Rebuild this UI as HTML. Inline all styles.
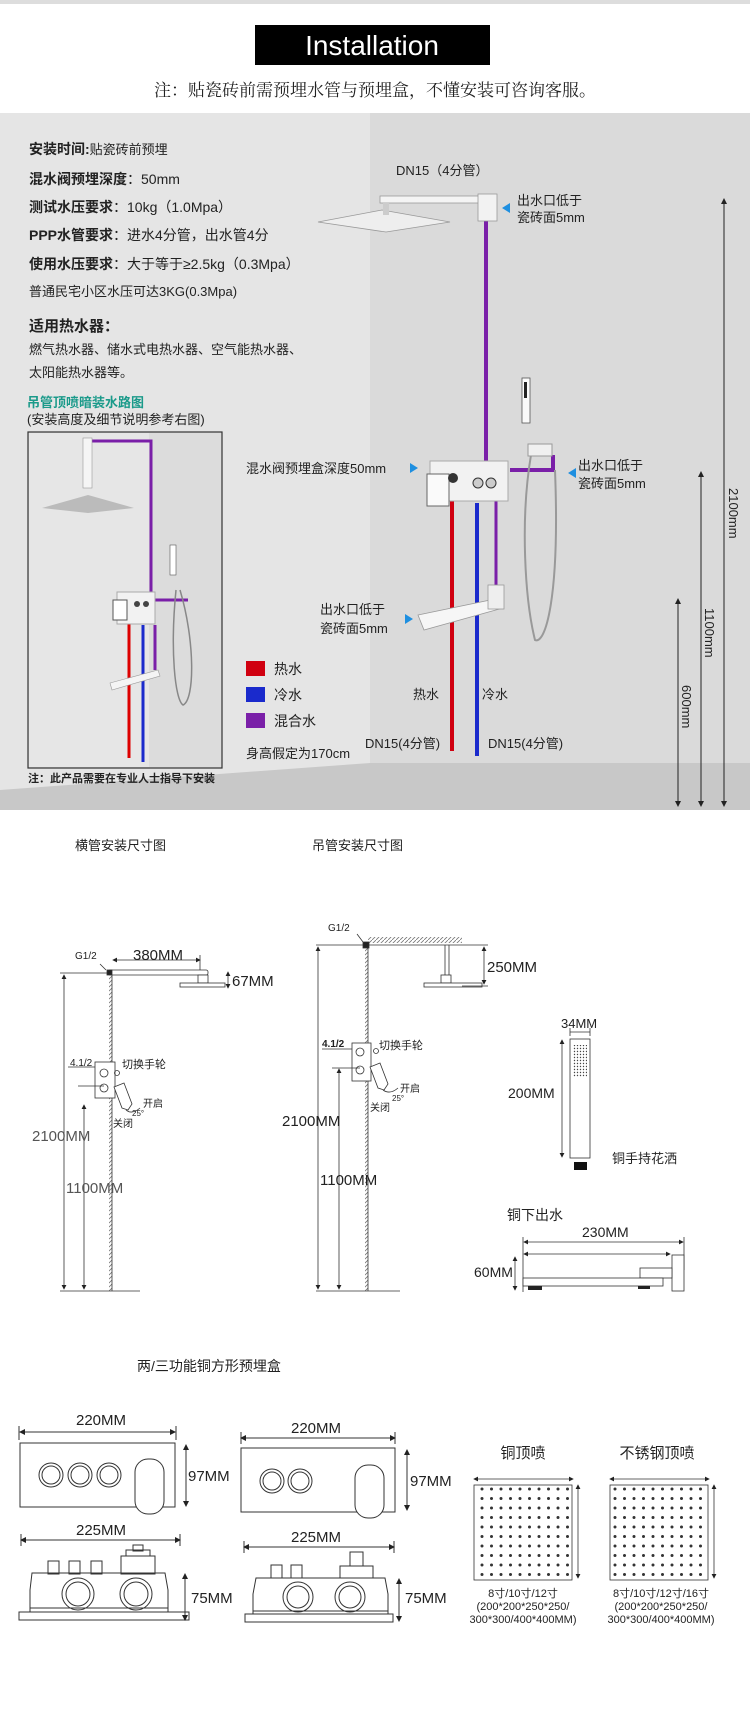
<!DOCTYPE html>
<html><head><meta charset="utf-8"><style>
html,body{margin:0;padding:0;background:#fff}
svg{display:block}
text{font-family:"Liberation Sans","Noto Sans CJK SC",sans-serif;fill:#222}
.s{font-family:"Liberation Serif","Noto Serif CJK SC",serif}
.b{font-weight:bold}
</style></head><body>
<svg width="750" height="1714" viewBox="0 0 750 1714" xmlns="http://www.w3.org/2000/svg">
<defs>
<pattern id="hatch" width="4" height="4" patternUnits="userSpaceOnUse"><path d="M0 4L4 0" stroke="#777" stroke-width="0.8"/></pattern>
<pattern id="dots" x="3" y="3" width="9.5" height="9.5" patternUnits="userSpaceOnUse"><circle cx="4" cy="4" r="1.5" fill="#333"/></pattern>
<pattern id="hdots" width="3" height="3" patternUnits="userSpaceOnUse"><circle cx="1.5" cy="1.5" r="0.7" fill="#444"/></pattern>
<marker id="ar" markerWidth="6" markerHeight="6" refX="5" refY="3" orient="auto"><path d="M0 0L6 3L0 6z" fill="#222"/></marker>
<marker id="al" markerWidth="6" markerHeight="6" refX="1" refY="3" orient="auto"><path d="M6 0L0 3L6 6z" fill="#222"/></marker>
</defs>
<rect x="0" y="0" width="750" height="4" fill="#ddd"/>
<rect x="255" y="25" width="235" height="40" fill="#000"/>
<text x="372" y="55" text-anchor="middle" font-size="28" style="fill:#fff">Installation</text>
<text class="s" x="375" y="96" text-anchor="middle" font-size="17">注：贴瓷砖前需预埋水管与预埋盒，不懂安装可咨询客服。</text>

<!-- panel -->
<rect x="0" y="113" width="750" height="697" fill="#e5e5e5"/>
<rect x="370" y="113" width="380" height="697" fill="#dadada"/>
<polygon points="0,810 0,790 370,763 750,763 750,810" fill="#c8c8c8"/>
<g font-size="14">
<text x="29" y="154" class="b">安装时间:<tspan font-weight="normal" font-size="13">贴瓷砖前预埋</tspan></text>
<text x="29" y="184" class="b">混水阀预埋深度<tspan font-weight="normal">：50mm</tspan></text>
<text x="29" y="212" class="b">测试水压要求<tspan font-weight="normal">：10kg（1.0Mpa）</tspan></text>
<text x="29" y="240" class="b">PPP水管要求<tspan font-weight="normal">：进水4分管，出水管4分</tspan></text>
<text x="29" y="269" class="b">使用水压要求<tspan font-weight="normal">：大于等于≥2.5kg（0.3Mpa）</tspan></text>
<text x="29" y="296" font-size="13">普通民宅小区水压可达3KG(0.3Mpa)</text>
<text x="29" y="331" class="b" font-size="15">适用热水器：</text>
<text x="29" y="354" font-size="13">燃气热水器、储水式电热水器、空气能热水器、</text>
<text x="29" y="377" font-size="13">太阳能热水器等。</text>
<text x="27" y="407" class="b" font-size="13" style="fill:#1a9a8a">吊管顶喷暗装水路图</text>
<text x="27" y="424" font-size="13">(安装高度及细节说明参考右图)</text>
</g>
<!-- inset -->
<rect x="28" y="432" width="194" height="336" fill="#dcdcdc" stroke="#333" stroke-width="1.2"/>
<rect x="29" y="433" width="120" height="334" fill="#e6e6e6"/>
<path d="M92 441H151V600H188" stroke="#7a1fa8" stroke-width="3" fill="none"/>
<rect x="83" y="438" width="9" height="50" fill="#f5f5f5" stroke="#999" stroke-width="0.6"/>
<polygon points="42,508 88,495 134,508 88,513" fill="#bbb"/>
<line x1="129" y1="620" x2="129" y2="758" stroke="#d00" stroke-width="3"/>
<line x1="143" y1="625" x2="143" y2="762" stroke="#1a2acc" stroke-width="3"/>
<line x1="155" y1="625" x2="155" y2="670" stroke="#7a1fa8" stroke-width="3"/>
<rect x="117" y="592" width="38" height="32" fill="#f2f2f2" stroke="#aaa"/>
<rect x="113" y="600" width="14" height="20" fill="#fff" stroke="#555"/>
<circle cx="137" cy="604" r="3" fill="#444"/><circle cx="146" cy="604" r="3" fill="#444"/>
<polygon points="110,683 158,670 160,676 112,690" fill="#f4f4f4" stroke="#999" stroke-width="0.6"/>
<rect x="170" y="545" width="6" height="30" fill="#fff" stroke="#555" stroke-width="0.6"/>
<path d="M180 590C195 640 195 700 183 705C175 700 170 650 176 590" stroke="#888" stroke-width="1.5" fill="none"/>
<text x="28" y="782" class="b" font-size="11">注：此产品需要在专业人士指导下安装</text>

<!-- right diagram pipes -->
<line x1="486" y1="220" x2="486" y2="470" stroke="#7a1fa8" stroke-width="4"/>
<path d="M510 470H553V455" stroke="#7a1fa8" stroke-width="4" fill="none"/>
<line x1="496" y1="500" x2="496" y2="585" stroke="#7a1fa8" stroke-width="3"/>
<line x1="452" y1="500" x2="452" y2="751" stroke="#d00010" stroke-width="4"/>
<line x1="477" y1="503" x2="477" y2="756" stroke="#1a2acc" stroke-width="4"/>
<!-- shower head -->
<polygon points="318,222 382,210 450,222 386,232" fill="#eee" stroke="#999" stroke-width="0.8"/>
<rect x="380" y="196" width="100" height="7" fill="#f4f4f4" stroke="#999" stroke-width="0.8"/>
<rect x="383" y="203" width="6" height="12" fill="#ccc"/>
<rect x="478" y="194" width="19" height="27" fill="#f2f2f2" stroke="#999" stroke-width="0.8"/>
<polygon points="502,208 510,203 510,213" fill="#1e8fe0"/>
<text x="396" y="175" font-size="13">DN15（4分管）</text>
<text x="517" y="205" font-size="13">出水口低于</text>
<text x="517" y="222" font-size="13">瓷砖面5mm</text>
<!-- hand shower -->
<rect x="522" y="378" width="8" height="45" fill="#fafafa" stroke="#555" stroke-width="0.8"/>
<rect x="524" y="382" width="3" height="16" fill="#222"/>
<path d="M531 455C520 520 525 600 535 640C545 645 560 600 555 470" stroke="#999" stroke-width="2" fill="none"/>
<rect x="528" y="444" width="24" height="12" fill="#f0f0f0" stroke="#999"/>
<!-- valve -->
<rect x="430" y="461" width="78" height="40" fill="#f2f2f2" stroke="#aaa"/>
<rect x="427" y="474" width="22" height="32" fill="#fafafa" stroke="#666"/>
<circle cx="453" cy="478" r="5" fill="#333"/><circle cx="478" cy="483" r="5" fill="#ccc" stroke="#333"/><circle cx="491" cy="483" r="5" fill="#ccc" stroke="#333"/>
<text x="246" y="473" font-size="13">混水阀预埋盒深度50mm</text>
<polygon points="418,468 410,463 410,473" fill="#1e8fe0"/>
<polygon points="568,473 576,468 576,478" fill="#1e8fe0"/>
<text x="578" y="470" font-size="13">出水口低于</text>
<text x="578" y="488" font-size="13">瓷砖面5mm</text>
<!-- spout -->
<polygon points="418,615 500,598 503,608 424,630" fill="#f6f6f6" stroke="#999" stroke-width="0.8"/>
<rect x="488" y="585" width="16" height="24" fill="#eee" stroke="#999" stroke-width="0.8"/>
<polygon points="413,619 405,614 405,624" fill="#1e8fe0"/>
<text x="320" y="614" font-size="13">出水口低于</text>
<text x="320" y="633" font-size="13">瓷砖面5mm</text>
<!-- legend -->
<rect x="246" y="661" width="19" height="15" fill="#d00010"/>
<rect x="246" y="687" width="19" height="15" fill="#1a2acc"/>
<rect x="246" y="713" width="19" height="15" fill="#7a1fa8"/>
<text x="274" y="674" font-size="14">热水</text>
<text x="274" y="700" font-size="14">冷水</text>
<text x="274" y="726" font-size="14">混合水</text>
<text x="413" y="699" font-size="13">热水</text>
<text x="482" y="699" font-size="13">冷水</text>
<text x="365" y="748" font-size="13">DN15(4分管)</text>
<text x="488" y="748" font-size="13">DN15(4分管)</text>
<text x="246" y="758" font-size="13">身高假定为170cm</text>
<!-- dims -->
<g stroke="#222" stroke-width="1">
<line x1="724" y1="199" x2="724" y2="806" marker-start="url(#al)" marker-end="url(#ar)"/>
<line x1="701" y1="472" x2="701" y2="806" marker-start="url(#al)" marker-end="url(#ar)"/>
<line x1="678" y1="599" x2="678" y2="806" marker-start="url(#al)" marker-end="url(#ar)"/>
</g>
<text font-size="13" transform="translate(729,488) rotate(90)">2100mm</text>
<text font-size="13" transform="translate(705,608) rotate(90)">1100mm</text>
<text font-size="13" transform="translate(682,685) rotate(90)">600mm</text>

<!-- section 2 -->
<text x="75" y="850" font-size="13">横管安装尺寸图</text>
<text x="312" y="850" font-size="13">吊管安装尺寸图</text>
<g stroke="#333" stroke-width="0.8" fill="none">
<rect x="109" y="973" width="3" height="318" fill="url(#hatch)" stroke="none"/>
<line x1="112" y1="973" x2="112" y2="1291"/>
<line x1="60" y1="1291" x2="140" y2="1291"/>
<line x1="60" y1="973" x2="110" y2="973"/>
<line x1="64" y1="975" x2="64" y2="1289" marker-start="url(#al)" marker-end="url(#ar)"/>
<line x1="84" y1="1105" x2="84" y2="1289" marker-start="url(#al)" marker-end="url(#ar)"/>
<rect x="108" y="970" width="100" height="5" rx="2" fill="#fff"/>
<rect x="107" y="970" width="5" height="5" fill="#222"/>
<line x1="113" y1="960" x2="200" y2="960" marker-start="url(#al)" marker-end="url(#ar)"/>
<line x1="200" y1="955" x2="200" y2="970"/>
<rect x="198" y="975" width="10" height="8" fill="#fff"/>
<rect x="180" y="983" width="45" height="4" fill="#fff"/>
<line x1="228" y1="972" x2="228" y2="988" marker-start="url(#al)" marker-end="url(#ar)"/>
<line x1="100" y1="964" x2="106" y2="970"/>
<rect x="95" y="1062" width="20" height="36" fill="#fff"/>
<circle cx="104" cy="1073" r="4"/><circle cx="104" cy="1088" r="4"/>
<circle cx="117" cy="1073" r="2.5"/>
<line x1="68" y1="1067" x2="95" y2="1067"/><line x1="78" y1="1086" x2="104" y2="1086"/>
<path d="M114 1087L124 1083L132 1104L128 1110L122 1108Z" fill="#fff"/>
<path d="M126 1110Q132 1115 140 1108"/>
</g>
<g font-size="10">
<text x="75" y="959">G1/2</text>
<text x="70" y="1066">4.1/2</text>
<text x="122" y="1068" font-size="11">切换手轮</text>
<text x="143" y="1107">开启</text>
<text x="132" y="1116" font-size="8">25°</text>
<text x="113" y="1127">关闭</text>
</g>
<text x="133" y="960" font-size="15">380MM</text>
<text x="232" y="986" font-size="15">67MM</text>
<text x="32" y="1141" font-size="15" style="fill:#555">2100MM</text>
<text x="66" y="1193" font-size="15" style="fill:#555">1100MM</text>

<!-- middle -->
<g stroke="#333" stroke-width="0.8" fill="none">
<rect x="365" y="945" width="3" height="346" fill="url(#hatch)" stroke="none"/>
<line x1="368" y1="945" x2="368" y2="1291"/>
<line x1="316" y1="1291" x2="400" y2="1291"/>
<rect x="368" y="937" width="94" height="6" fill="url(#hatch)" stroke="none"/>
<line x1="368" y1="945" x2="462" y2="945"/>
<line x1="316" y1="945" x2="365" y2="945"/>
<rect x="363" y="942" width="6" height="6" fill="#222"/>
<line x1="357" y1="934" x2="363" y2="942"/>
<line x1="318" y1="947" x2="318" y2="1289" marker-start="url(#al)" marker-end="url(#ar)"/>
<line x1="339" y1="1069" x2="339" y2="1289" marker-start="url(#al)" marker-end="url(#ar)"/>
<line x1="445" y1="945" x2="445" y2="975"/><line x1="449" y1="945" x2="449" y2="975"/>
<rect x="441" y="975" width="10" height="8" fill="#fff"/>
<rect x="424" y="983" width="58" height="4" fill="#fff"/>
<line x1="462" y1="945" x2="488" y2="945"/><line x1="462" y1="986" x2="488" y2="986"/>
<line x1="484" y1="947" x2="484" y2="984" marker-start="url(#al)" marker-end="url(#ar)"/>
<rect x="352" y="1043" width="19" height="38" fill="#fff"/>
<circle cx="360" cy="1052" r="4"/><circle cx="360" cy="1070" r="4"/>
<circle cx="376" cy="1051" r="2.5"/>
<line x1="322" y1="1049" x2="352" y2="1049"/><line x1="332" y1="1068" x2="360" y2="1068"/>
<path d="M370 1067L380 1063L388 1084L384 1090L378 1088Z" fill="#fff"/>
<path d="M383 1090Q390 1095 398 1088"/>
</g>
<g font-size="10">
<text x="328" y="931">G1/2</text>
<text x="322" y="1047" class="b">4.1/2</text>
<text x="379" y="1049" font-size="11">切换手轮</text>
<text x="400" y="1092">开启</text>
<text x="392" y="1101" font-size="8">25°</text>
<text x="370" y="1111">关闭</text>
</g>
<text x="487" y="972" font-size="15">250MM</text>
<text x="282" y="1126" font-size="15">2100MM</text>
<text x="320" y="1185" font-size="15">1100MM</text>

<!-- hand shower -->
<g stroke="#333" stroke-width="0.8" fill="none">
<rect x="570" y="1039" width="20" height="119" fill="#fff"/>
<rect x="573" y="1045" width="14" height="32" fill="url(#hdots)" stroke="none"/>
<line x1="562" y1="1040" x2="562" y2="1157" marker-start="url(#al)" marker-end="url(#ar)"/>
<line x1="570" y1="1032" x2="590" y2="1032"/>
<line x1="570" y1="1028" x2="570" y2="1036"/><line x1="590" y1="1028" x2="590" y2="1036"/>
</g>
<rect x="574" y="1162" width="13" height="8" fill="#111"/>
<text x="561" y="1028" font-size="13">34MM</text>
<text x="508" y="1098" font-size="14">200MM</text>
<text x="612" y="1163" font-size="13">铜手持花洒</text>
<!-- spout -->
<text x="507" y="1220" font-size="14">铜下出水</text>
<text x="582" y="1237" font-size="14">230MM</text>
<g stroke="#333" stroke-width="0.8" fill="none">
<line x1="524" y1="1242" x2="683" y2="1242" marker-start="url(#al)" marker-end="url(#ar)"/>
<line x1="524" y1="1254" x2="670" y2="1254" marker-start="url(#al)" marker-end="url(#ar)"/>
<line x1="523" y1="1237" x2="523" y2="1292"/><line x1="684" y1="1237" x2="684" y2="1270"/>
<rect x="672" y="1255" width="12" height="36" fill="#fff"/>
<rect x="640" y="1268" width="32" height="10" fill="#fff"/>
<rect x="523" y="1278" width="140" height="8" fill="#fff"/>
<line x1="515" y1="1257" x2="515" y2="1290" marker-start="url(#al)" marker-end="url(#ar)"/>
</g>
<rect x="528" y="1286" width="14" height="4" fill="#222"/><rect x="638" y="1286" width="12" height="3" fill="#222"/>
<text x="474" y="1277" font-size="14">60MM</text>

<!-- section 3 -->
<text x="137" y="1371" font-size="14">两/三功能铜方形预埋盒</text>
<g stroke="#333" stroke-width="1" fill="none">
<line x1="20" y1="1432" x2="175" y2="1432" marker-start="url(#al)" marker-end="url(#ar)"/>
<line x1="19" y1="1426" x2="19" y2="1440"/><line x1="176" y1="1426" x2="176" y2="1440"/>
<rect x="20" y="1443" width="155" height="64" fill="#fff"/>
<circle cx="51" cy="1475" r="12"/><circle cx="51" cy="1475" r="9"/>
<circle cx="80" cy="1475" r="12"/><circle cx="80" cy="1475" r="9"/>
<circle cx="109" cy="1475" r="12"/><circle cx="109" cy="1475" r="9"/>
<rect x="135" y="1459" width="29" height="55" rx="13" fill="#fff"/>
<line x1="186" y1="1445" x2="186" y2="1506" marker-start="url(#al)" marker-end="url(#ar)"/>
<line x1="21" y1="1540" x2="180" y2="1540" marker-start="url(#al)" marker-end="url(#ar)"/>
<line x1="21" y1="1534" x2="21" y2="1546"/><line x1="180" y1="1534" x2="180" y2="1546"/>
<rect x="48" y="1561" width="11" height="13"/><rect x="69" y="1561" width="11" height="13"/><rect x="91" y="1561" width="11" height="13"/>
<rect x="121" y="1556" width="34" height="18"/><rect x="126" y="1550" width="24" height="6"/><rect x="133" y="1545" width="10" height="6"/>
<path d="M32 1573H165L168 1590V1612H30V1590Z"/>
<line x1="30" y1="1608" x2="168" y2="1608"/>
<rect x="19" y="1612" width="170" height="8"/>
<circle cx="78" cy="1594" r="16"/><circle cx="78" cy="1594" r="12"/>
<circle cx="136" cy="1594" r="16"/><circle cx="136" cy="1594" r="12"/>
<line x1="185" y1="1574" x2="185" y2="1620" marker-start="url(#al)" marker-end="url(#ar)"/>
</g>
<text x="76" y="1425" font-size="15">220MM</text>
<text x="188" y="1481" font-size="15">97MM</text>
<text x="76" y="1535" font-size="15">225MM</text>
<text x="191" y="1603" font-size="15">75MM</text>
<g stroke="#333" stroke-width="1" fill="none">
<line x1="241" y1="1438" x2="395" y2="1438" marker-start="url(#al)" marker-end="url(#ar)"/>
<line x1="241" y1="1432" x2="241" y2="1444"/><line x1="395" y1="1432" x2="395" y2="1444"/>
<rect x="241" y="1448" width="154" height="64" fill="#fff"/>
<circle cx="272" cy="1481" r="12"/><circle cx="272" cy="1481" r="9"/>
<circle cx="300" cy="1481" r="12"/><circle cx="300" cy="1481" r="9"/>
<rect x="355" y="1465" width="29" height="53" rx="13" fill="#fff"/>
<line x1="407" y1="1450" x2="407" y2="1510" marker-start="url(#al)" marker-end="url(#ar)"/>
<line x1="244" y1="1547" x2="394" y2="1547" marker-start="url(#al)" marker-end="url(#ar)"/>
<line x1="244" y1="1541" x2="244" y2="1553"/><line x1="394" y1="1541" x2="394" y2="1553"/>
<rect x="271" y="1565" width="11" height="13"/><rect x="291" y="1565" width="11" height="13"/>
<rect x="340" y="1566" width="33" height="12"/><rect x="350" y="1552" width="13" height="14"/>
<path d="M256 1578H385L388 1594V1614H253V1594Z"/>
<line x1="253" y1="1611" x2="388" y2="1611"/>
<rect x="245" y="1614" width="148" height="8"/>
<circle cx="298" cy="1597" r="15"/><circle cx="298" cy="1597" r="11"/>
<circle cx="350" cy="1597" r="15"/><circle cx="350" cy="1597" r="11"/>
<line x1="399" y1="1579" x2="399" y2="1621" marker-start="url(#al)" marker-end="url(#ar)"/>
</g>
<text x="291" y="1433" font-size="15">220MM</text>
<text x="410" y="1486" font-size="15">97MM</text>
<text x="291" y="1542" font-size="15">225MM</text>
<text x="405" y="1603" font-size="15">75MM</text>
<!-- plates -->
<text x="523" y="1458" text-anchor="middle" font-size="15">铜顶喷</text>
<text x="657" y="1458" text-anchor="middle" font-size="15">不锈钢顶喷</text>
<g stroke="#333" stroke-width="0.8" fill="none">
<line x1="474" y1="1479" x2="573" y2="1479" marker-start="url(#al)" marker-end="url(#ar)"/>
<line x1="578" y1="1485" x2="578" y2="1578" marker-start="url(#al)" marker-end="url(#ar)"/>
<rect x="474" y="1485" width="98" height="95" fill="#fff"/>
<rect x="476" y="1487" width="94" height="91" fill="url(#dots)" stroke="none"/>
<line x1="610" y1="1479" x2="709" y2="1479" marker-start="url(#al)" marker-end="url(#ar)"/>
<line x1="714" y1="1485" x2="714" y2="1578" marker-start="url(#al)" marker-end="url(#ar)"/>
<rect x="610" y="1485" width="98" height="95" fill="#fff"/>
<rect x="612" y="1487" width="94" height="91" fill="url(#dots)" stroke="none"/>
</g>
<g font-size="11" text-anchor="middle">
<text x="523" y="1597">8寸/10寸/12寸</text>
<text x="523" y="1610">(200*200*250*250/</text>
<text x="523" y="1623">300*300/400*400MM)</text>
<text x="661" y="1597">8寸/10寸/12寸/16寸</text>
<text x="661" y="1610">(200*200*250*250/</text>
<text x="661" y="1623">300*300/400*400MM)</text>
</g>
</svg>
</body></html>
